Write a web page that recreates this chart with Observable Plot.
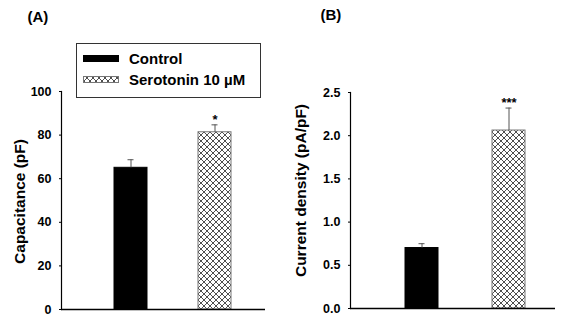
<!DOCTYPE html>
<html><head><meta charset="utf-8">
<script src="https://cdn.jsdelivr.net/npm/d3@7"></script>
<script src="https://cdn.jsdelivr.net/npm/@observablehq/plot@0.6"></script>
<style>
body{margin:0;background:#fff;}
#fig{position:relative;width:565px;height:317px;font-family:Arial,"Liberation Sans",sans-serif;}
#fig > svg{position:absolute;top:0;}
</style></head><body>
<div id="fig">
<svg width="0" height="0" style="position:absolute;left:0;top:0"><defs>
<pattern id="hatch" patternUnits="userSpaceOnUse" width="6" height="6">
<rect width="6" height="6" fill="#fff"></rect>
<path d="M0,0L6,6M6,0L0,6M-1,5L1,7M5,-1L7,1M-1,1L1,-1M5,7L7,5" stroke="#222" stroke-width="0.8"></path>
</pattern></defs></svg>
</div>
<script>
const groups = ["Control", "Serotonin 10 µM"];
const capacitance = [65.0, 81.3];
const capacitanceErr = [3.7, 3.4];
const density = [0.70, 2.06];
const densityErr = [0.05, 0.26];
const capTicks = [0, 20, 40, 60, 80, 100];
const densTicks = [0, 0.5, 1.0, 1.5, 2.0, 2.5];
const capStars = ["", "*"];
const densStars = ["", "***"];
const panelTags = ["(A)", "(B)"];
const yLabels = ["Capacitance (pF)", "Current density (pA/pF)"];

const FONT = "Arial, 'Liberation Sans', sans-serif";
const fills = ["#000", "url(#hatch)"];
const strokes = ["#000", "#777"];

function panel(o) {
  const data = groups.map((g, i) => ({g, i, v: o.values[i], e: o.errs[i], s: o.stars[i]}));
  return Plot.plot({
    width: o.width, height: 317,
    marginLeft: o.ml, marginRight: o.mr, marginTop: o.mt, marginBottom: o.mb,
    style: {fontFamily: FONT, fontWeight: "bold", fontSize: "12px", color: "#000", background: "transparent", overflow: "visible"},
    x: {domain: groups, range: o.xr, padding: o.pad, axis: null},
    y: {domain: o.domain, label: null, axis: null},
    marks: [
      Plot.axisY({ticks: o.ticks, tickFormat: o.fmt, tickSize: 2, tickPadding: o.tickPad, fontSize: 12.5, fontWeight: "bold", label: null, stroke: "#000"}),
      Plot.barY(data, {x: "g", y: "v", fill: d => fills[d.i], stroke: d => strokes[d.i], strokeWidth: 1}),
      Plot.ruleX(data, {x: "g", y1: "v", y2: d => d.v + d.e, stroke: "#555", strokeWidth: 1}),
      Plot.tickY(data, {x: "g", y: d => d.v + d.e, stroke: "#555", insetLeft: o.capInset, insetRight: o.capInset}),
      Plot.text(data, {x: "g", y: d => d.v + d.e, text: "s", dy: o.starDy, lineAnchor: "bottom", fontSize: 13, fontWeight: "bold"}),
      Plot.frame({anchor: "left", stroke: "#000", strokeWidth: 1.2}),
      Plot.ruleY([0], {stroke: "#000", strokeWidth: 1.6}),
      Plot.text([o.label], {frameAnchor: "left", rotate: -90, textAnchor: "middle", dx: o.labelX - o.ml, dy: o.labelDy, fontSize: 15.5, fontWeight: "bold"}),
      Plot.text([o.tag], {frameAnchor: "top-left", dx: o.tagX - o.ml, dy: o.tagY - o.mt, lineAnchor: "middle", textAnchor: "start", fontSize: 15, fontWeight: "bold"})
    ]
  });
}

const fig = document.getElementById("fig");

const pA = panel({
  values: capacitance, errs: capacitanceErr, stars: capStars,
  ticks: capTicks, fmt: d3.format("d"), domain: [0, 100],
  label: yLabels[0], tag: panelTags[0],
  width: 282, ml: 61, mr: 17, mt: 91, mb: 8,
  xr: [61, 283], pad: 0.612, tickPad: 8,
  capInset: 13.5, starDy: -1, labelX: 20, labelDy: 1, tagX: 27, tagY: 17
});
pA.style.left = "0px";
fig.appendChild(pA);

const pB = panel({
  values: density, errs: densityErr, stars: densStars,
  ticks: densTicks, fmt: d3.format(".1f"), domain: [0, 2.5],
  label: yLabels[1], tag: panelTags[1],
  width: 283, ml: 68, mr: 10, mt: 92, mb: 9,
  xr: [68.75, 297.8], pad: 0.617, tickPad: 8,
  capInset: 13.5, starDy: -1, labelX: 19, labelDy: -10, tagX: 38, tagY: 15
});
pB.style.left = "282px";
fig.appendChild(pB);

// legend
const leg = d3.select(fig).append("svg")
  .attr("width", 282).attr("height", 110)
  .style("left", "0px").style("top", "0px")
  .attr("font-family", FONT).attr("font-weight", "bold").attr("font-size", 15);
leg.append("rect").attr("x", 76.5).attr("y", 43.5).attr("width", 184).attr("height", 54)
  .attr("fill", "#fff").attr("stroke", "#333").attr("stroke-width", 1);
const items = leg.selectAll("g").data(groups).join("g")
  .attr("transform", (d, i) => `translate(0,${i * 21})`);
items.append("rect").attr("x", 83.5).attr("y", 55.5).attr("width", 35).attr("height", 6)
  .attr("fill", (d, i) => fills[i]).attr("stroke", (d, i) => strokes[i]);
items.append("text").attr("x", 129).attr("y", 64).attr("fill", "#000").text(d => d);
</script>
</body></html>
